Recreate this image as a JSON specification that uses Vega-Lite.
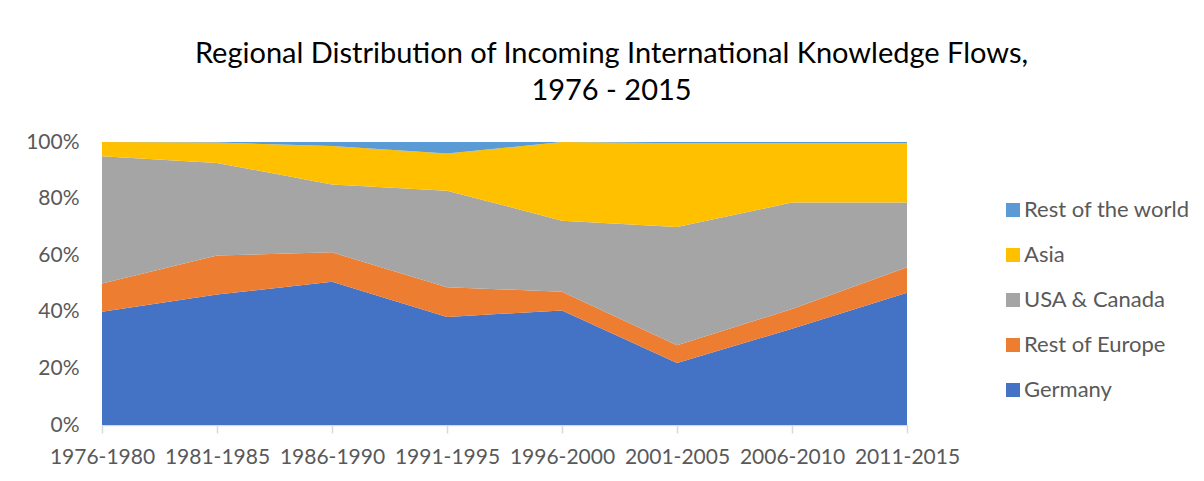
{
  "$schema": "https://vega.github.io/schema/vega-lite/v6.json",
  "autosize": "none",
  "width": 805,
  "height": 283,
  "padding": {"left": 102, "top": 142, "right": 297, "bottom": 56},
  "background": "white",
  "config": {
    "view": {"stroke": null},
    "font": "Lato"
  },
  "title": {
    "text": ["Regional Distribution of Incoming International Knowledge Flows,", "1976 - 2015"],
    "fontSize": 29,
    "font": "Lato",
    "fontWeight": "normal",
    "color": "#000000",
    "anchor": "middle",
    "dx": 107,
    "offset": 25,
    "lineHeight": 37
  },
  "data": {
    "values": [
      {"period": "1976-1980", "region": "Germany", "rank": 1, "share": 40.0},
      {"period": "1976-1980", "region": "Rest of Europe", "rank": 2, "share": 10.0},
      {"period": "1976-1980", "region": "USA & Canada", "rank": 3, "share": 45.0},
      {"period": "1976-1980", "region": "Asia", "rank": 4, "share": 5.0},
      {"period": "1976-1980", "region": "Rest of the world", "rank": 5, "share": 0.0},
      {"period": "1981-1985", "region": "Germany", "rank": 1, "share": 46.1},
      {"period": "1981-1985", "region": "Rest of Europe", "rank": 2, "share": 13.8},
      {"period": "1981-1985", "region": "USA & Canada", "rank": 3, "share": 32.7},
      {"period": "1981-1985", "region": "Asia", "rank": 4, "share": 7.2},
      {"period": "1981-1985", "region": "Rest of the world", "rank": 5, "share": 0.2},
      {"period": "1986-1990", "region": "Germany", "rank": 1, "share": 50.6},
      {"period": "1986-1990", "region": "Rest of Europe", "rank": 2, "share": 10.4},
      {"period": "1986-1990", "region": "USA & Canada", "rank": 3, "share": 24.0},
      {"period": "1986-1990", "region": "Asia", "rank": 4, "share": 13.6},
      {"period": "1986-1990", "region": "Rest of the world", "rank": 5, "share": 1.4},
      {"period": "1991-1995", "region": "Germany", "rank": 1, "share": 38.2},
      {"period": "1991-1995", "region": "Rest of Europe", "rank": 2, "share": 10.5},
      {"period": "1991-1995", "region": "USA & Canada", "rank": 3, "share": 34.1},
      {"period": "1991-1995", "region": "Asia", "rank": 4, "share": 13.1},
      {"period": "1991-1995", "region": "Rest of the world", "rank": 5, "share": 4.1},
      {"period": "1996-2000", "region": "Germany", "rank": 1, "share": 40.5},
      {"period": "1996-2000", "region": "Rest of Europe", "rank": 2, "share": 6.6},
      {"period": "1996-2000", "region": "USA & Canada", "rank": 3, "share": 25.1},
      {"period": "1996-2000", "region": "Asia", "rank": 4, "share": 27.8},
      {"period": "1996-2000", "region": "Rest of the world", "rank": 5, "share": 0.0},
      {"period": "2001-2005", "region": "Germany", "rank": 1, "share": 21.9},
      {"period": "2001-2005", "region": "Rest of Europe", "rank": 2, "share": 6.3},
      {"period": "2001-2005", "region": "USA & Canada", "rank": 3, "share": 41.8},
      {"period": "2001-2005", "region": "Asia", "rank": 4, "share": 29.6},
      {"period": "2001-2005", "region": "Rest of the world", "rank": 5, "share": 0.4},
      {"period": "2006-2010", "region": "Germany", "rank": 1, "share": 34.0},
      {"period": "2006-2010", "region": "Rest of Europe", "rank": 2, "share": 7.0},
      {"period": "2006-2010", "region": "USA & Canada", "rank": 3, "share": 37.6},
      {"period": "2006-2010", "region": "Asia", "rank": 4, "share": 21.0},
      {"period": "2006-2010", "region": "Rest of the world", "rank": 5, "share": 0.4},
      {"period": "2011-2015", "region": "Germany", "rank": 1, "share": 46.7},
      {"period": "2011-2015", "region": "Rest of Europe", "rank": 2, "share": 9.0},
      {"period": "2011-2015", "region": "USA & Canada", "rank": 3, "share": 22.9},
      {"period": "2011-2015", "region": "Asia", "rank": 4, "share": 21.0},
      {"period": "2011-2015", "region": "Rest of the world", "rank": 5, "share": 0.4}
    ]
  },
  "mark": {"type": "area", "opacity": 1},
  "encoding": {
    "x": {
      "field": "period",
      "type": "ordinal",
      "scale": {"type": "point", "padding": 0},
      "axis": {
        "title": null,
        "labelAngle": 0,
        "labelFontSize": 21,
        "labelColor": "#595959",
        "labelFont": "Lato",
        "labelPadding": 13,
        "domainColor": "#d9d9d9",
        "domainWidth": 1.5,
        "tickColor": "#d9d9d9",
        "tickSize": 8,
        "tickWidth": 1.5,
        "grid": false
      }
    },
    "y": {
      "field": "share",
      "type": "quantitative",
      "stack": "normalize",
      "scale": {"domain": [0, 1], "nice": false},
      "axis": {
        "title": null,
        "format": ".0%",
        "values": [0, 0.2, 0.4, 0.6, 0.8, 1],
        "labelFontSize": 21,
        "labelColor": "#595959",
        "labelFont": "Lato",
        "labelPadding": 23,
        "domain": false,
        "ticks": false,
        "grid": false
      }
    },
    "color": {
      "field": "region",
      "type": "nominal",
      "scale": {
        "domain": ["Rest of the world", "Asia", "USA & Canada", "Rest of Europe", "Germany"],
        "range": ["#5B9BD5", "#FFC000", "#A5A5A5", "#ED7D31", "#4472C4"]
      },
      "legend": {
        "title": null,
        "orient": "none",
        "legendX": 900,
        "legendY": 57,
        "symbolType": "square",
        "symbolSize": 196,
        "symbolStrokeWidth": 0,
        "labelFontSize": 22,
        "labelLimit": 300,
        "labelColor": "#595959",
        "labelFont": "Lato",
        "labelOffset": 0,
        "rowPadding": 23
      }
    },
    "order": {"field": "rank", "type": "quantitative"}
  }
}
